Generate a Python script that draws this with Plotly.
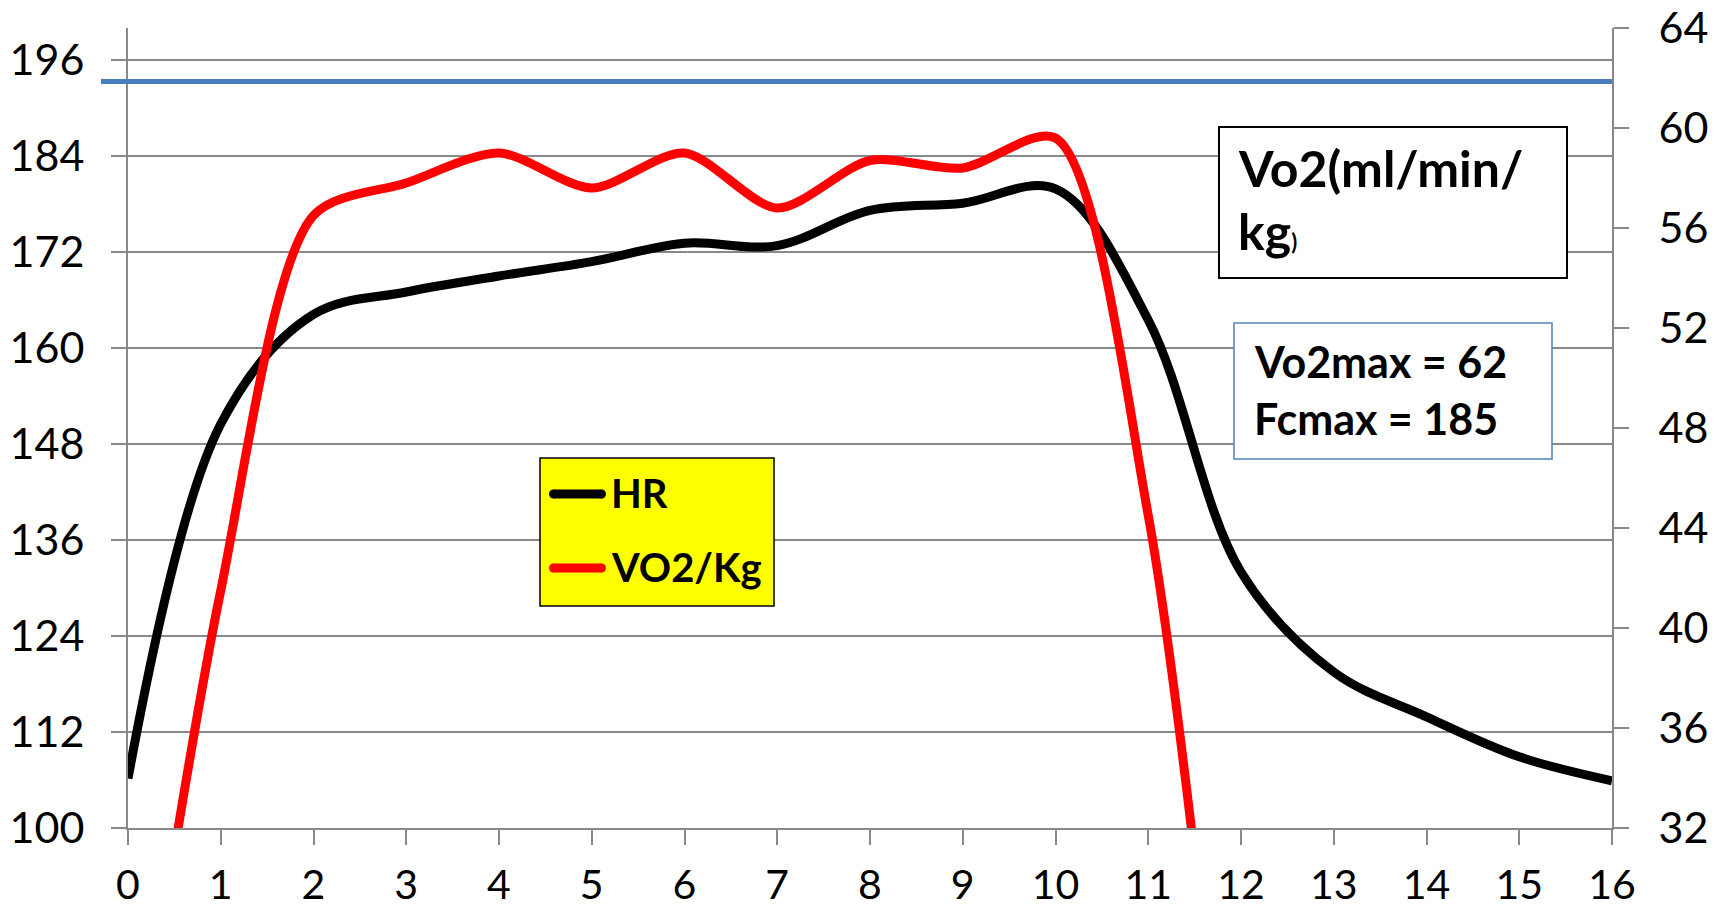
import plotly.graph_objects as go

# ---------------- data ----------------
minutes = [0, 1, 2, 3, 4, 5, 6, 7, 8, 9, 10, 11, 12, 13, 14, 15, 16]
hr = [106.2, 150.5, 164.2, 167.0, 169.0, 170.8, 173.1, 172.8, 177.2, 178.1,
      179.9, 163.5, 132.0, 119.5, 113.9, 108.9, 105.9]
vo2_minutes = [0, 1, 2, 3, 4, 5, 6, 7, 8, 9, 10, 11, 12]
vo2_kg = [19.5, 41.5, 56.5, 57.8, 59.0, 57.6, 59.0, 56.8, 58.7, 58.4, 59.6, 44.5, 14.0]
vo2max_level = 61.86
x_ticks = [0, 1, 2, 3, 4, 5, 6, 7, 8, 9, 10, 11, 12, 13, 14, 15, 16]
hr_ticks = [100, 112, 124, 136, 148, 160, 172, 184, 196]
vo2_ticks = [32, 36, 40, 44, 48, 52, 56, 60, 64]

# ---------------- layout geometry ----------------
W, H = 1725, 910
L, R, T, B = 128, 113, 28, 82
PW, PH = W - L - R, H - T - B


def px(x):
    return (x - L) / PW


def py(y):
    return (H - B - y) / PH


GRID = "#898989"
FONT = "Lato"

fig = go.Figure()
fig.add_trace(go.Scatter(x=minutes, y=hr, mode="lines", name="HR",
                         line=dict(color="#000000", width=9, shape="spline", smoothing=1.0),
                         showlegend=False, yaxis="y"))
fig.add_trace(go.Scatter(x=vo2_minutes, y=vo2_kg, mode="lines", name="VO2/Kg",
                         line=dict(color="#FF0000", width=9, shape="spline", smoothing=0.8),
                         showlegend=False, yaxis="y2"))

axis_common = dict(ticks="outside", ticklen=15, tickwidth=2, tickcolor=GRID,
                   showline=True, linecolor=GRID, linewidth=2, zeroline=False,
                   automargin=False)
tick_font = dict(family=FONT, size=43, color="#000000")

fig.update_layout(
    width=W, height=H,
    margin=dict(l=L, r=R, t=T, b=B, pad=0, autoexpand=False),
    paper_bgcolor="white", plot_bgcolor="white",
    showlegend=False,
    xaxis=dict(range=[0, 16], tickvals=x_ticks, showgrid=False,
               tickfont=dict(family=FONT, size=41, color="#000000"),
               ticklabelstandoff=5, **axis_common),
    yaxis=dict(range=[100, 200], tickvals=hr_ticks, showgrid=True, tickfont=tick_font,
               gridcolor=GRID, gridwidth=2, ticklabelstandoff=18, **axis_common),
    yaxis2=dict(range=[32, 64], tickvals=vo2_ticks, overlaying="y", side="right",
                tickfont=tick_font,
                showgrid=False, ticklabelstandoff=21, **axis_common),
)

shapes = []
# Vo2max reference line
shapes.append(dict(type="line", xref="paper", yref="y2", x0=px(101), x1=1.0,
                   y0=vo2max_level, y1=vo2max_level,
                   line=dict(color="#4A7EBB", width=5), layer="above"))
# unit box
shapes.append(dict(type="rect", xref="paper", yref="paper",
                   x0=px(1219), x1=px(1567), y0=py(278), y1=py(127),
                   line=dict(color="#000000", width=2), fillcolor="white", layer="above"))
# max values box
shapes.append(dict(type="rect", xref="paper", yref="paper",
                   x0=px(1234), x1=px(1552), y0=py(459), y1=py(323),
                   line=dict(color="#4F81BD", width=1.5), fillcolor="white", layer="above"))
# legend box
shapes.append(dict(type="rect", xref="paper", yref="paper",
                   x0=px(540), x1=px(774), y0=py(606), y1=py(458),
                   line=dict(color="#000000", width=1.5), fillcolor="#FFFF00", layer="above"))
for yy, col in [(494, "#000000"), (568, "#FF0000")]:
    shapes.append(dict(type="line", xref="paper", yref="paper",
                       x0=px(553.5), x1=px(601.5), y0=py(yy), y1=py(yy),
                       line=dict(color=col, width=9), layer="above"))
    for cx in (553.5, 601.5):
        shapes.append(dict(type="circle", xref="paper", yref="paper",
                           x0=px(cx - 4.5), x1=px(cx + 4.5), y0=py(yy + 4.5), y1=py(yy - 4.5),
                           line=dict(width=0), fillcolor=col, layer="above"))
fig.update_layout(shapes=shapes)

K = 0.387  # baseline -> box centre factor


def label(text, x_left, baseline, size):
    fig.add_annotation(xref="paper", yref="paper", x=px(x_left), y=py(baseline - K * size),
                       xanchor="left", yanchor="middle", showarrow=False, align="left",
                       text=text, font=dict(family=FONT, size=size, color="#000000"))


label("<b>Vo2(ml/min/</b>", 1236, 187, 50)
label("<b>kg<span style='font-size:22px'>)</span></b>", 1236, 250, 50)
label("<b>Vo2max = 62</b>", 1252, 378, 43)
label("<b>Fcmax = 185</b>", 1252, 435, 43)
label("<b>HR</b>", 609, 508, 40)
label("<b>VO2/Kg</b>", 609, 582, 40)

fig.write_html("out.html", config={"displayModeBar": False},
               post_script="document.body.style.margin='0';document.body.style.overflow='hidden';")
